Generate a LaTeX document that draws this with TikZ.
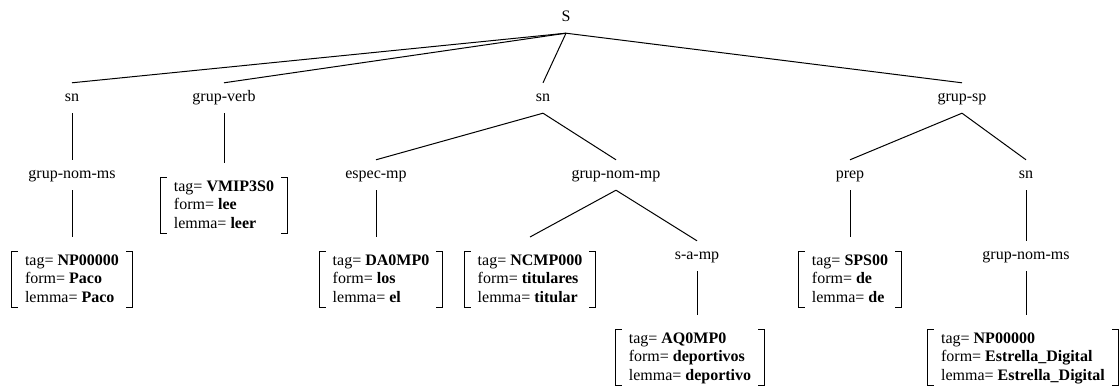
\documentclass[tikz,border=0pt]{standalone}
\usepackage{fontspec}
\setmainfont{Liberation Serif}
\newcommand\avmstrut{\rule[-5pt]{0pt}{18pt}}
\begin{document}
\begin{tikzpicture}[x=1pt,y=-1pt,
  lbl/.style={font=\fontsize{16}{18.5}\selectfont, minimum height=30pt, inner sep=0pt, text height=11pt, text depth=3pt},
  avm/.style={font=\fontsize{16}{18.5}\selectfont, align=left, inner xsep=13pt, inner ysep=0pt, anchor=north},
  conn/.style={line width=1pt, black},
  vconn/.style={conn, shorten >=15pt},
  brk/.style={line width=1pt, black}]
\useasboundingbox (0,0) rectangle (1120,387);
\clip (0,0) rectangle (1120,387);
% labels
\node[lbl] (S) at (566,18) {S};
\node[lbl] (sn1) at (72,98) {sn};
\node[lbl] (gv) at (224,98) {grup-verb};
\node[lbl] (sn2) at (543,98) {sn};
\node[lbl] (gsp) at (962,98) {grup-sp};
\node[lbl] (gnm1) at (72,175) {grup-nom-ms};
\node[lbl] (espec) at (376,175) {espec-mp};
\node[lbl] (gnmp) at (616,175) {grup-nom-mp};
\node[lbl] (prep) at (850,175) {prep};
\node[lbl] (sn3) at (1026,175) {sn};
\node[lbl] (samp) at (697,256) {s-a-mp};
\node[lbl] (gnm2) at (1026,256) {grup-nom-ms};
% feature boxes
\node[avm] (vb) at (224,178) {\avmstrut tag= \textbf{VMIP3S0}\\ form= \textbf{lee}\\ lemma= \textbf{leer}\avmstrut};
\node[avm] (paco) at (72,252) {\avmstrut tag= \textbf{NP00000}\\ form= \textbf{Paco}\\ lemma= \textbf{Paco}\avmstrut};
\node[avm] (da) at (381,252) {\avmstrut tag= \textbf{DA0MP0}\\ form= \textbf{los}\\ lemma= \textbf{el}\avmstrut};
\node[avm] (ncmp) at (530,252) {\avmstrut tag= \textbf{NCMP000}\\ form= \textbf{titulares}\\ lemma= \textbf{titular}\avmstrut};
\node[avm] (sps) at (850,252) {\avmstrut tag= \textbf{SPS00}\\ form= \textbf{de}\\ lemma= \textbf{de}\avmstrut};
\node[avm] (aq) at (690,330) {\avmstrut tag= \textbf{AQ0MP0}\\ form= \textbf{deportivos}\\ lemma= \textbf{deportivo}\avmstrut};
\node[avm] (est) at (1023,330) {\avmstrut tag= \textbf{NP00000}\\ form= \textbf{Estrella\_Digital}\\ lemma= \textbf{Estrella\_Digital}\avmstrut};
% brackets
\foreach \b in {vb,paco,da,ncmp,sps,aq,est}{
  \draw[brk] ([xshift=6pt]\b.north west) -- (\b.north west) -- (\b.south west) -- ([xshift=6pt]\b.south west);
  \draw[brk] ([xshift=-6pt]\b.north east) -- (\b.north east) -- (\b.south east) -- ([xshift=-6pt]\b.south east);
}
% connectors
\draw[conn] (S.south) -- (sn1.north);
\draw[conn] (S.south) -- (gv.north);
\draw[conn] (S.south) -- (sn2.north);
\draw[conn] (S.south) -- (gsp.north);
\draw[conn] (sn1.south) -- (gnm1.north);
\draw[vconn] (gv.south) -- (gv.south |- vb.north);
\draw[conn] (sn2.south) -- (espec.north);
\draw[conn] (sn2.south) -- (gnmp.north);
\draw[conn] (gsp.south) -- (prep.north);
\draw[conn] (gsp.south) -- (sn3.north);
\draw[vconn] (gnm1.south) -- (gnm1.south |- paco.north);
\draw[vconn] (espec.south) -- (espec.south |- da.north);
\draw[conn] (gnmp.south) -- ([yshift=15pt]ncmp.north);
\draw[conn] (gnmp.south) -- (samp.north);
\draw[vconn] (samp.south) -- (samp.south |- aq.north);
\draw[vconn] (prep.south) -- (prep.south |- sps.north);
\draw[conn] (sn3.south) -- (gnm2.north);
\draw[vconn] (gnm2.south) -- (gnm2.south |- est.north);
\end{tikzpicture}
\end{document}
